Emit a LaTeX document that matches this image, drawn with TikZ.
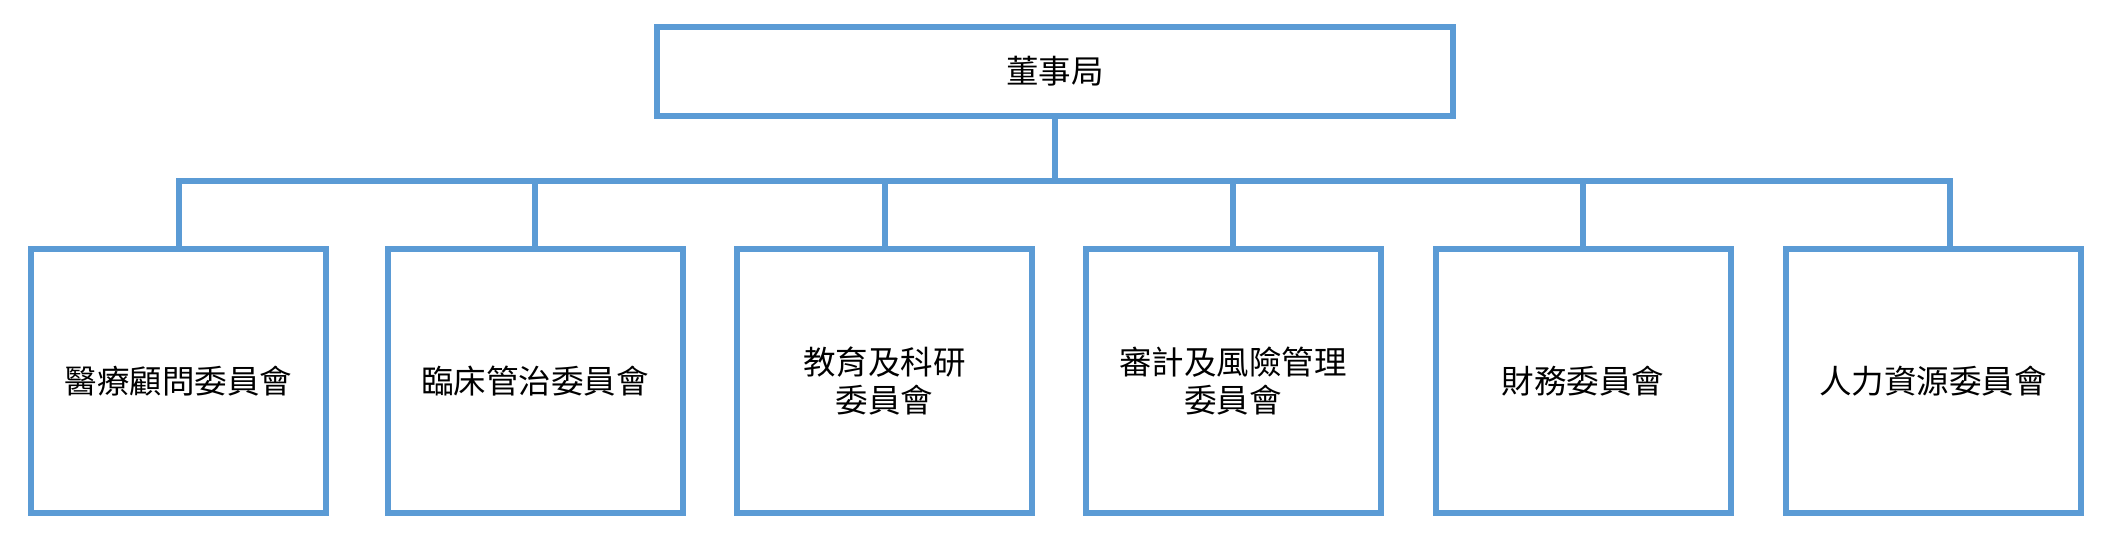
\documentclass[tikz,border=0pt]{standalone}
\usepackage{fontspec}
\newfontfamily\cjk{Noto Sans CJK TC}
\definecolor{boxblue}{HTML}{5B9BD5}
\tikzset{
  orgbox/.style={draw=boxblue, line width=6pt, fill=white, inner sep=0pt,
    minimum width=295pt, minimum height=264pt, align=center,
    font=\cjk\fontsize{32.5}{38}\selectfont, text=black},
  topbox/.style={orgbox, minimum width=796pt, minimum height=88.7pt},
  link/.style={draw=boxblue, line width=6pt}
}
\begin{document}
\begin{tikzpicture}[x=1pt,y=-1pt]
\useasboundingbox (0,0) rectangle (2108,541);
\node[topbox] (top) at (1055,71.4) {董事局};
\node[orgbox] (b1) at (178.5,381) {醫療顧問委員會};
\node[orgbox] (b2) at (535,381) {臨床管治委員會};
\node[orgbox] (b3) at (884.5,381) {教育及科研\\委員會};
\node[orgbox] (b4) at (1233,381) {審計及風險管理\\委員會};
\node[orgbox] (b5) at (1583,381) {財務委員會};
\node[orgbox] (b6) at (1933,381) {人力資源委員會};
\coordinate (bus) at (1054,181);
\coordinate (d6) at (1950,181);
\draw[link] (top.south) -- (top.south |- bus);
\draw[link] (b1.north) |- (d6) -- (d6 |- b6.north);
\draw[link] (b2.north) -- (b2.north |- bus);
\draw[link] (b3.north) -- (b3.north |- bus);
\draw[link] (b4.north) -- (b4.north |- bus);
\draw[link] (b5.north) -- (b5.north |- bus);
\end{tikzpicture}
\end{document}
